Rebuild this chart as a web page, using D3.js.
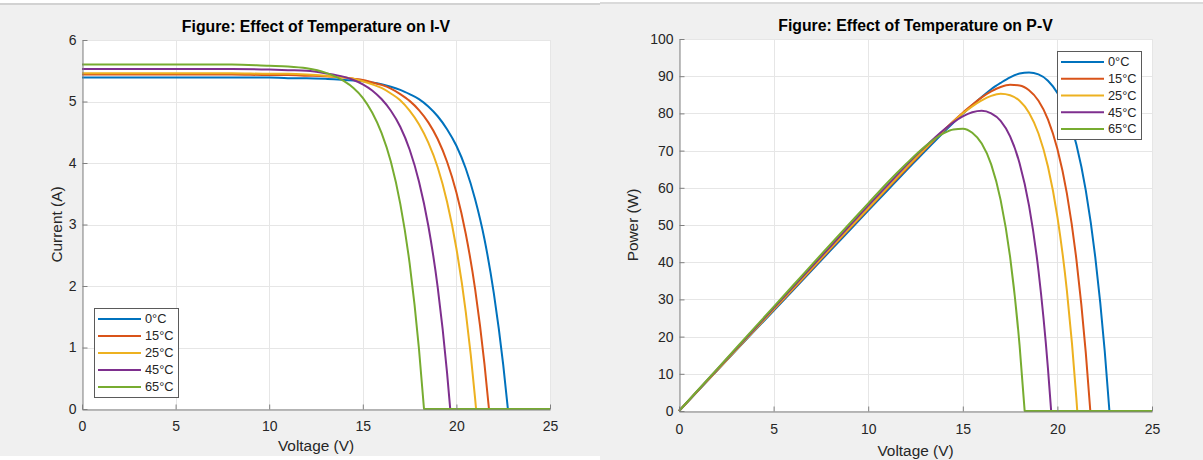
<!DOCTYPE html>
<html>
<head>
<meta charset="utf-8">
<script src="https://cdn.jsdelivr.net/npm/d3@7"></script>
<style>
  body { margin: 0; background: #f0f0f0; }
  svg { display: block; font-family: "Liberation Sans", Arial, Helvetica, sans-serif; }
</style>
</head>
<body>
<div id="chart"></div>
<script>
// shared voltage grid (V)
const voltage = [0, 2, 4, 6, 8, 10, 11, 12, 13, 14, 14.5, 15, 15.5, 16, 16.5, 17, 17.5, 18, 18.5, 19, 19.5, 20, 20.5, 21, 21.5, 22, 22.5];
const temps = ["0°C", "15°C", "25°C", "45°C", "65°C"];
const colors = ["#0072BD", "#D95319", "#EDB120", "#7E2F8E", "#77AC30"];
// open-circuit voltage per temperature
const voc = [22.75, 21.74, 21.05, 19.67, 18.27];

// current (A) on the voltage grid, until open circuit
const current0 = [5.39, 5.39, 5.39, 5.39, 5.39, 5.39, 5.38, 5.38, 5.37, 5.35, 5.34, 5.33, 5.31, 5.28, 5.24, 5.19, 5.12, 5.04, 4.92, 4.76, 4.55, 4.28, 3.91, 3.41, 2.76, 1.88, 0.72];
const current15 = [5.44, 5.44, 5.44, 5.44, 5.44, 5.43, 5.43, 5.42, 5.41, 5.39, 5.37, 5.35, 5.31, 5.27, 5.21, 5.12, 5.01, 4.86, 4.66, 4.39, 4.02, 3.52, 2.85, 1.95, 0.73];
const current25 = [5.46, 5.46, 5.46, 5.46, 5.46, 5.45, 5.45, 5.44, 5.42, 5.39, 5.37, 5.33, 5.28, 5.22, 5.13, 5.02, 4.85, 4.63, 4.33, 3.93, 3.37, 2.61, 1.58, 0.17];
const current45 = [5.53, 5.53, 5.53, 5.53, 5.53, 5.52, 5.51, 5.50, 5.46, 5.40, 5.35, 5.28, 5.18, 5.04, 4.85, 4.59, 4.22, 3.70, 2.98, 1.98, 0.59];
const current65 = [5.60, 5.60, 5.60, 5.60, 5.60, 5.58, 5.57, 5.54, 5.47, 5.33, 5.22, 5.06, 4.82, 4.49, 4.02, 3.34, 2.37, 0.98];

// power (W) on the voltage grid, until open circuit
const power0 = [0, 10.8, 21.6, 32.3, 43.1, 53.9, 59.2, 64.6, 69.8, 75.0, 77.5, 79.9, 82.2, 84.4, 86.5, 88.2, 89.7, 90.7, 91.0, 90.5, 88.8, 85.5, 80.1, 71.7, 59.3, 41.4, 16.2];
const power15 = [0, 10.9, 21.8, 32.6, 43.5, 54.3, 59.7, 65.0, 70.3, 75.4, 77.9, 80.2, 82.3, 84.3, 85.9, 87.1, 87.7, 87.5, 86.2, 83.4, 78.4, 70.4, 58.5, 40.9, 15.7];
const power25 = [0, 10.9, 21.8, 32.8, 43.7, 54.5, 59.9, 65.3, 70.5, 75.5, 77.8, 80.0, 81.9, 83.5, 84.7, 85.3, 84.9, 83.4, 80.2, 74.6, 65.7, 52.2, 32.4, 3.6];
const power45 = [0, 11.1, 22.1, 33.2, 44.2, 55.2, 60.6, 66.0, 71.0, 75.6, 77.6, 79.2, 80.3, 80.7, 80.0, 78.0, 73.8, 66.6, 55.2, 37.7, 11.5];
const power65 = [0, 11.2, 22.4, 33.6, 44.8, 55.8, 61.3, 66.4, 71.1, 74.7, 75.7, 75.9, 74.8, 71.9, 66.3, 56.7, 41.4, 17.7];

const xTicks = [0, 5, 10, 15, 20, 25];
const ivTicks = [0, 1, 2, 3, 4, 5, 6];
const pvTicks = [0, 10, 20, 30, 40, 50, 60, 70, 80, 90, 100];

const width = 1203, height = 460;
const svg = d3.select("#chart").append("svg")
    .attr("width", width)
    .attr("height", height);

svg.append("rect").attr("width", width).attr("height", height).attr("fill", "#f0f0f0");
// window edges
svg.append("rect").attr("x", 0).attr("y", 0).attr("width", 600).attr("height", 3).attr("fill", "#ffffff");
svg.append("rect").attr("x", 0).attr("y", 3).attr("width", 600).attr("height", 2).attr("fill", "#d2d2d2");
svg.append("rect").attr("x", 600).attr("y", 0).attr("width", 603).attr("height", 2).attr("fill", "#ffffff");
svg.append("rect").attr("x", 600).attr("y", 2).attr("width", 603).attr("height", 2).attr("fill", "#dadada");
svg.append("rect").attr("x", 0).attr("y", 456).attr("width", 600).attr("height", 4).attr("fill", "#ffffff");

function drawPanel(p) {
    const x = d3.scaleLinear().domain([0, 25]).range([p.left, p.right]);
    const y = d3.scaleLinear().domain([0, p.yMax]).range([p.bottom, p.top]);
    const g = svg.append("g");

    g.append("rect")
        .attr("x", p.left).attr("y", p.top)
        .attr("width", p.right - p.left).attr("height", p.bottom - p.top)
        .attr("fill", "#ffffff");

    // grid
    g.selectAll(".vgrid").data(xTicks).enter().append("line")
        .attr("x1", d => Math.round(x(d)) + 0.5).attr("x2", d => Math.round(x(d)) + 0.5)
        .attr("y1", p.top).attr("y2", p.bottom)
        .attr("stroke", "#e6e6e6");
    g.selectAll(".hgrid").data(p.yTicks).enter().append("line")
        .attr("y1", d => Math.round(y(d)) + 0.5).attr("y2", d => Math.round(y(d)) + 0.5)
        .attr("x1", p.left).attr("x2", p.right)
        .attr("stroke", "#e6e6e6");

    const line = d3.line()
        .x(d => x(d[0]))
        .y(d => y(d[1]))
        .curve(d3.curveMonotoneX);

    p.series.forEach((vals, k) => {
        const pts = vals.map((v, i) => [voltage[i], v]);
        pts.push([voc[k], 0]);
        g.append("path")
            .attr("d", line(pts) + `L${x(25)},${y(0)}`)
            .attr("fill", "none")
            .attr("stroke", colors[k])
            .attr("stroke-width", 2)
            .attr("stroke-linejoin", "round");
    });

    const xAxis = d3.axisBottom(x).tickValues(xTicks).tickFormat(d3.format("d"))
        .tickSizeInner(-5).tickSizeOuter(0).tickPadding(p.xPad);
    const yAxis = d3.axisLeft(y).tickValues(p.yTicks).tickFormat(d3.format("d"))
        .tickSizeInner(-5).tickSizeOuter(0).tickPadding(6);

    const gx = g.append("g")
        .attr("transform", `translate(0, ${Math.round(p.bottom) + 0.5})`)
        .call(xAxis);
    const gy = g.append("g")
        .attr("transform", `translate(${Math.round(p.left) + 0.5}, 0)`)
        .call(yAxis);
    [gx, gy].forEach(a => {
        a.selectAll("path, line").attr("stroke", "#808080");
        a.selectAll("text").attr("fill", "#262626").style("font-size", "14px");
        a.attr("font-family", null);
    });

    g.append("text")
        .attr("x", (p.left + p.right) / 2).attr("y", p.titleY)
        .attr("text-anchor", "middle")
        .attr("fill", "#000")
        .style("font-size", "15.8px").style("font-weight", "bold")
        .text(p.title);

    g.append("text")
        .attr("x", (p.left + p.right) / 2).attr("y", p.xLabelY)
        .attr("text-anchor", "middle")
        .attr("fill", "#262626")
        .style("font-size", "15.4px")
        .text("Voltage (V)");

    g.append("text")
        .attr("transform", `translate(${p.yLabelX}, ${(p.top + p.bottom) / 2}) rotate(-90)`)
        .attr("text-anchor", "middle")
        .attr("fill", "#262626")
        .style("font-size", "15.4px")
        .text(p.yLabel);

    // legend
    const L = p.legend;
    const lg = g.append("g");
    lg.append("rect")
        .attr("x", L.x + 0.5).attr("y", L.y + 0.5)
        .attr("width", L.w).attr("height", L.h)
        .attr("fill", "#ffffff").attr("stroke", "#5a5a5a");
    temps.forEach((t, i) => {
        const yy = L.row0 + i * L.dy;
        lg.append("line")
            .attr("x1", L.x + 4).attr("x2", L.x + 47)
            .attr("y1", yy).attr("y2", yy)
            .attr("stroke", colors[i]).attr("stroke-width", 2);
        lg.append("text")
            .attr("x", L.x + 51).attr("y", yy)
            .attr("dy", "0.35em")
            .attr("fill", "#262626")
            .style("font-size", "12.8px")
            .text(t);
    });
}

drawPanel({
    left: 82, right: 550, top: 40, bottom: 409,
    yMax: 6, yTicks: ivTicks,
    series: [current0, current15, current25, current45, current65],
    title: "Figure: Effect of Temperature on I-V",
    yLabel: "Current (A)",
    titleY: 32, xLabelY: 451, yLabelX: 62, xPad: 12,
    legend: { x: 94, y: 308, w: 84, h: 89, row0: 319, dy: 17 }
});

drawPanel({
    left: 679, right: 1152, top: 39, bottom: 411,
    yMax: 100, yTicks: pvTicks,
    series: [power0, power15, power25, power45, power65],
    title: "Figure: Effect of Temperature on P-V",
    yLabel: "Power (W)",
    titleY: 31, xLabelY: 456, yLabelX: 638, xPad: 13,
    legend: { x: 1057, y: 51, w: 84, h: 88, row0: 62, dy: 16.75 }
});
</script>
</body>
</html>
